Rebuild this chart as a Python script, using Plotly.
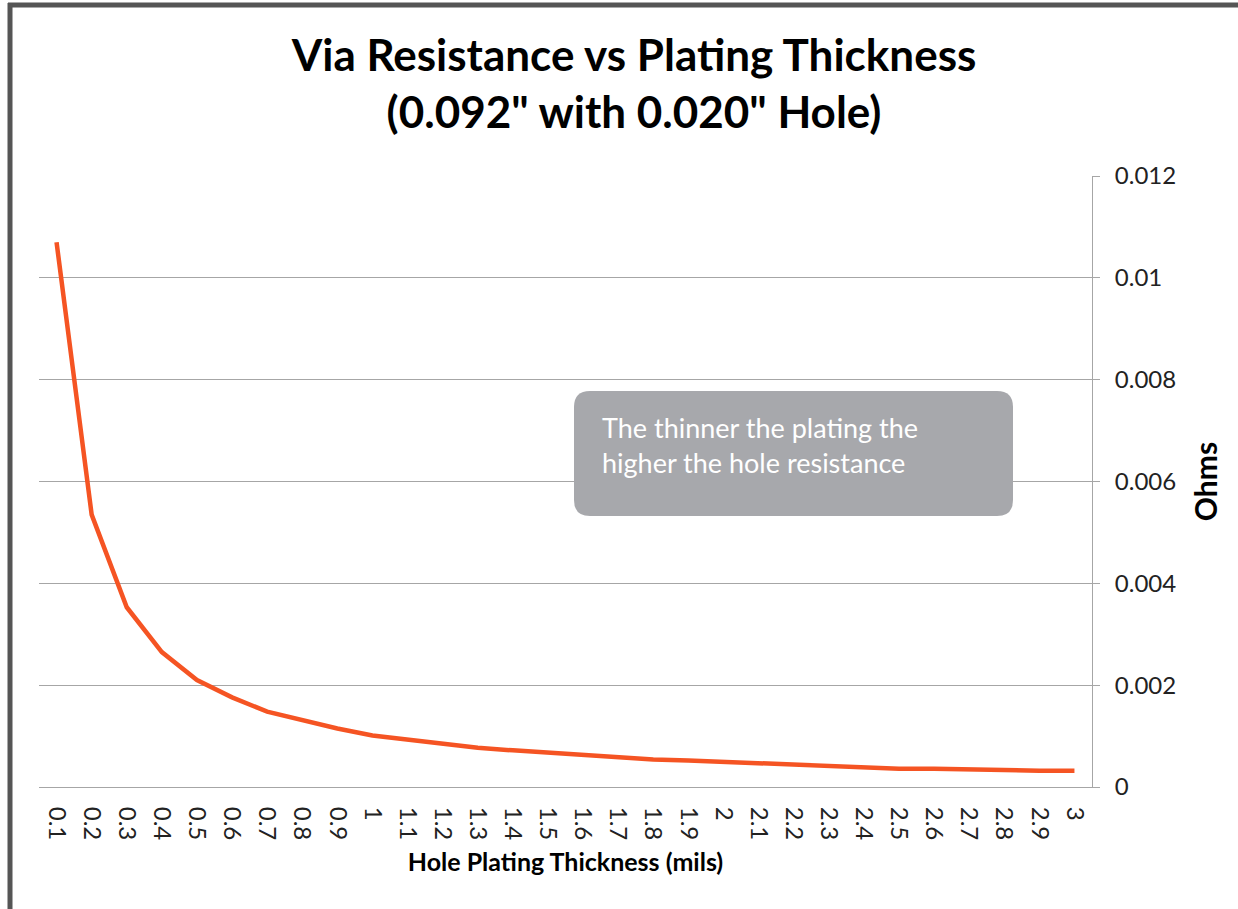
import plotly.graph_objects as go

# Hole plating thickness (mils) and via resistance (ohms)
thickness = ["0.1", "0.2", "0.3", "0.4", "0.5", "0.6", "0.7", "0.8", "0.9", "1",
             "1.1", "1.2", "1.3", "1.4", "1.5", "1.6", "1.7", "1.8", "1.9", "2",
             "2.1", "2.2", "2.3", "2.4", "2.5", "2.6", "2.7", "2.8", "2.9", "3"]
resistance = [0.01070, 0.00535, 0.00353, 0.00265, 0.00210, 0.00176, 0.00148, 0.00131, 0.00115, 0.00101,
              0.00093, 0.00085, 0.00077, 0.00072, 0.00067, 0.00062, 0.00059, 0.00054, 0.00052, 0.00049,
              0.00046, 0.00044, 0.00041, 0.00039, 0.00036, 0.00036, 0.00034, 0.00034, 0.00032, 0.00032]
y_ticks = [0, 0.002, 0.004, 0.006, 0.008, 0.01, 0.012]
y_tick_text = ["0", "0.002", "0.004", "0.006", "0.008", "0.01", "0.012"]

W, H = 1238, 909
L, R, T, B = 39, 146, 176, 122
PW, PH = W - L - R, H - T - B
FONT = "Lato"
GRID = "#A6A6A6"


def px_x(x):
    return (x - L) / PW


def px_y(y):
    return (H - B - y) / PH


fig = go.Figure()
fig.add_trace(go.Scatter(
    x=thickness, y=resistance, mode="lines",
    line=dict(color="#F55423", width=4.5),
    hoverinfo="x+y", showlegend=False,
))

# rounded callout box
x0, x1 = px_x(574), px_x(1013)
y0, y1 = px_y(516), px_y(391)
rx, ry = 16 / PW, 16 / PH
path = (f"M {x0+rx},{y0} L {x1-rx},{y0} Q {x1},{y0} {x1},{y0+ry} "
        f"L {x1},{y1-ry} Q {x1},{y1} {x1-rx},{y1} L {x0+rx},{y1} "
        f"Q {x0},{y1} {x0},{y1-ry} L {x0},{y0+ry} Q {x0},{y0} {x0+rx},{y0} Z")

shapes = [
    dict(type="path", xref="paper", yref="paper", path=path,
         fillcolor="#A7A8AC", line=dict(width=0), layer="above"),
    # outer frame (top and left edges)
    dict(type="line", xref="paper", yref="paper",
         x0=px_x(8), x1=px_x(W + 5), y0=px_y(5), y1=px_y(5),
         line=dict(color="#555555", width=5)),
    dict(type="line", xref="paper", yref="paper",
         x0=px_x(10), x1=px_x(10), y0=px_y(3), y1=px_y(H + 5),
         line=dict(color="#555555", width=5)),
]

annotations = [
    dict(text="The thinner the plating the<br>higher the hole resistance",
         xref="paper", yref="paper", x=px_x(600), y=px_y(445),
         xanchor="left", yanchor="middle", align="left", showarrow=False,
         font=dict(family=FONT, size=27, color="white")),
]

fig.update_layout(
    width=W, height=H,
    margin=dict(l=L, r=R, t=T, b=B),
    paper_bgcolor="white", plot_bgcolor="white",
    title=dict(text="Via Resistance vs Plating Thickness<br>(0.092\" with 0.020\" Hole)",
               x=634 / W, xanchor="center", xref="container",
               y=1 - 71 / H, yanchor="middle", yref="container",
               font=dict(family=FONT, size=44, color="black", weight="bold")),
    shapes=shapes,
    annotations=annotations,
    font=dict(family=FONT, color="#222222"),
)

fig.update_xaxes(
    type="category", range=[-0.5, len(thickness) - 0.5],
    showgrid=False, showline=True, linecolor=GRID, linewidth=1,
    ticks="", tickangle=90, tickfont=dict(family=FONT, size=24, color="#222222"),
    ticklabelstandoff=14,
    title=dict(text="Hole Plating Thickness (mils)", standoff=14,
               font=dict(family=FONT, size=25, color="black", weight="bold")),
)
fig.update_yaxes(
    side="right", range=[0, 0.012],
    tickvals=y_ticks, ticktext=y_tick_text,
    showgrid=True, gridcolor=GRID, gridwidth=1,
    showline=True, linecolor=GRID, linewidth=1,
    ticks="outside", ticklen=7, tickcolor=GRID,
    ticklabelstandoff=10,
    tickfont=dict(family=FONT, size=24, color="#222222"),
    zeroline=False,
    title=dict(text="Ohms", standoff=20,
               font=dict(family=FONT, size=30, color="black", weight="bold")),
)

fig.write_html("out.html")
